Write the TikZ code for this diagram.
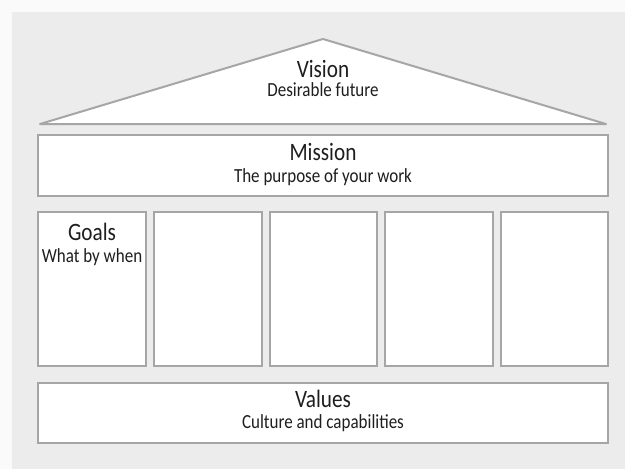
\documentclass[tikz,border=0pt]{standalone}
\usepackage{fontspec}
\newfontfamily\housefont[FakeStretch=0.85]{Carlito}
\definecolor{bgout}{HTML}{FAFAFA}
\definecolor{bgin}{HTML}{ECECEC}
\definecolor{edge}{HTML}{A6A6A6}
\definecolor{ink}{HTML}{1E1E1E}
\begin{document}
\begin{tikzpicture}[x=1pt,y=-1pt,
  part/.style={draw=edge,line width=2pt,fill=white},
  ttl/.style={anchor=base,text=ink,inner sep=0pt,font=\housefont\fontsize{25}{25}\selectfont},
  sub/.style={anchor=base,text=ink,inner sep=0pt,font=\housefont\fontsize{20}{20}\selectfont}]
\useasboundingbox (0,0) rectangle (625,469);
\fill[bgout] (0,0) rectangle (625,469);
\fill[bgin] (12,12) rectangle (625,469);
% roof
\coordinate (rl) at (40,124);
\coordinate (ra) at (323,39);
\coordinate (rr) at (606,124);
\draw[part,line join=round] (rl) -- (ra) -- (rr) -- cycle;
\node[ttl] (vision) at (323,77) {Vision};
\node[sub] (visionsub) at (323,96) {Desirable future};
% mission
\draw[part] (38,135) rectangle (608,196);
\node[ttl] (mission) at (323,160) {Mission};
\node[sub] (missionsub) at (323,182) {The purpose of your work};
% goals columns
\draw[part] (38,212) rectangle (146,366);
\draw[part] (154,212) rectangle (262,366);
\draw[part] (270,212) rectangle (377,366);
\draw[part] (385,212) rectangle (493,366);
\draw[part] (501,212) rectangle (608,366);
\node[ttl] (goals) at (92,240) {Goals};
\node[sub] (goalssub) at (92,262) {What by when};
% values
\draw[part] (38,383) rectangle (608,443);
\node[ttl] (values) at (323,407) {Values};
\node[sub] (valuessub) at (323,428) {Culture and capabilities};
\end{tikzpicture}
\end{document}
